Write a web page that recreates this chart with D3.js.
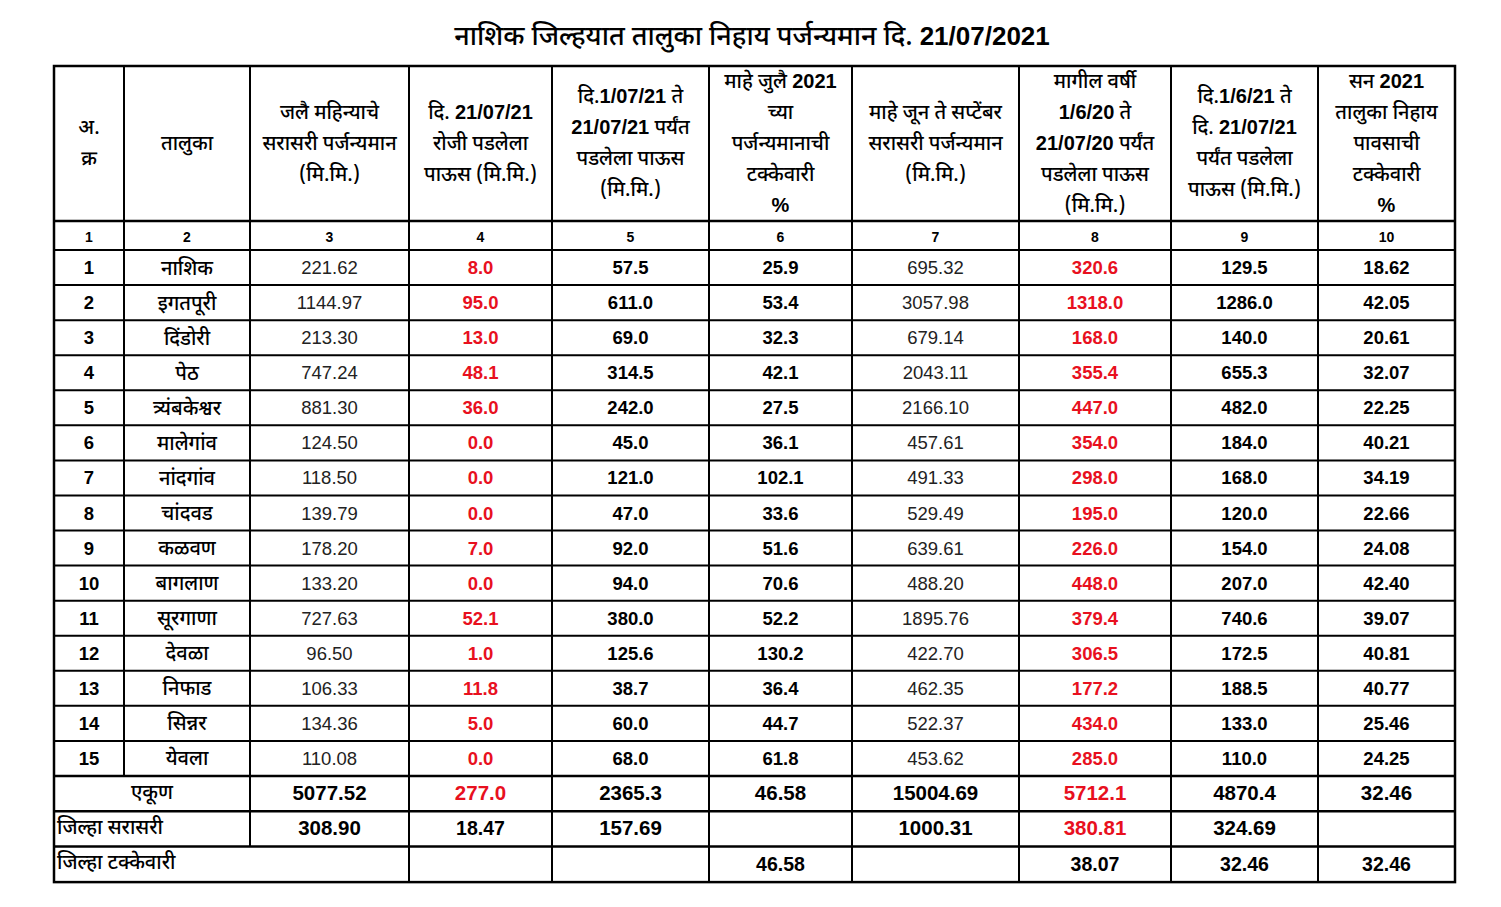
<!DOCTYPE html>
<html><head><meta charset="utf-8">
<script src="https://cdn.jsdelivr.net/npm/d3@7"></script>
<style>body{margin:0;background:#fff;} svg{display:block}</style>
</head><body>
<script>
// ---------- data ----------
const title = "नाशिक जिल्हयात तालुका निहाय पर्जन्यमान दि. 21/07/2021";
const headers = [
  ["अ.", "क्र"],
  ["तालुका"],
  ["जलै महिन्याचे", "सरासरी पर्जन्यमान", "(मि.मि.)"],
  ["दि. 21/07/21", "रोजी पडलेला", "पाऊस (मि.मि.)"],
  ["दि.1/07/21 ते", "21/07/21 पर्यंत", "पडलेला पाऊस", "(मि.मि.)"],
  ["माहे जुलै 2021", "च्या", "पर्जन्यमानाची", "टक्केवारी", "%"],
  ["माहे जून ते सप्टेंबर", "सरासरी पर्जन्यमान", "(मि.मि.)"],
  ["मागील वर्षी", "1/6/20 ते", "21/07/20 पर्यंत", "पडलेला पाऊस", "(मि.मि.)"],
  ["दि.1/6/21 ते", "दि. 21/07/21", "पर्यंत पडलेला", "पाऊस (मि.मि.)"],
  ["सन 2021", "तालुका निहाय", "पावसाची", "टक्केवारी", "%"]
];
const colNumbers = ["1","2","3","4","5","6","7","8","9","10"];
const serial = [1,2,3,4,5,6,7,8,9,10,11,12,13,14,15];
const talukas = ["नाशिक","इगतपूरी","दिंडोरी","पेठ","त्र्यंबकेश्वर","मालेगांव","नांदगांव","चांदवड","कळवण","बागलाण","सूरगाणा","देवळा","निफाड","सिन्नर","येवला"];
const avgJuly      = [221.62,1144.97,213.30,747.24,881.30,124.50,118.50,139.79,178.20,133.20,727.63,96.50,106.33,134.36,110.08];
const rainToday    = [8.0,95.0,13.0,48.1,36.0,0.0,0.0,0.0,7.0,0.0,52.1,1.0,11.8,5.0,0.0];
const rainJuly     = [57.5,611.0,69.0,314.5,242.0,45.0,121.0,47.0,92.0,94.0,380.0,125.6,38.7,60.0,68.0];
const pctJuly      = [25.9,53.4,32.3,42.1,27.5,36.1,102.1,33.6,51.6,70.6,52.2,130.2,36.4,44.7,61.8];
const avgJunSep    = [695.32,3057.98,679.14,2043.11,2166.10,457.61,491.33,529.49,639.61,488.20,1895.76,422.70,462.35,522.37,453.62];
const rainLastYear = [320.6,1318.0,168.0,355.4,447.0,354.0,298.0,195.0,226.0,448.0,379.4,306.5,177.2,434.0,285.0];
const rainSeason   = [129.5,1286.0,140.0,655.3,482.0,184.0,168.0,120.0,154.0,207.0,740.6,172.5,188.5,133.0,110.0];
const pctSeason    = [18.62,42.05,20.61,32.07,22.25,40.21,34.19,22.66,24.08,42.40,39.07,40.81,40.77,25.46,24.25];
const totalLabel = "एकूण";
const totalRow   = [5077.52,277.0,2365.3,46.58,15004.69,5712.1,4870.4,32.46];   // columns 3..10
const avgLabel   = "जिल्हा सरासरी";
const avgRow     = [308.90,18.47,157.69,null,1000.31,380.81,324.69,null];        // columns 3..10
const pctLabel   = "जिल्हा टक्केवारी";
const pctRow     = [null,46.58,null,38.07,32.46,32.46];                          // columns 5..10

// ---------- layout ----------
const W = 1501, H = 907;
const colWidths = [70,126,159,143,157,143,167,152,147,137];
const tLeft = 54, tTop = 66, headerBottom = 221, numBottom = 250, dataBottom = 776, rowH = 35.2;
const colEdges = [tLeft]; colWidths.forEach(w => colEdges.push(colEdges[colEdges.length-1] + w));
const tRight = colEdges[10];
const cx = i => (colEdges[i] + colEdges[i+1]) / 2;
const RED = "#e8101e";
const FONT = "'Liberation Sans', Arial, sans-serif";
const NARROW = "'Liberation Sans Narrow', 'Liberation Sans', sans-serif";
const DEV = "'Noto Sans Devanagari', 'Lohit Devanagari', 'Noto Sans', sans-serif";

const y = d3.scaleBand().domain(d3.range(15)).range([numBottom, dataBottom]);
const yTot = [dataBottom, dataBottom + rowH];
const yAvg = [yTot[1], yTot[1] + rowH];
const yPct = [yAvg[1], yAvg[1] + rowH + 0.5];
const tBottom = yPct[1];

const svg = d3.select("body").append("svg").attr("width", W).attr("height", H);
svg.append("rect").attr("width", W).attr("height", H).attr("fill", "#fff");

// split a string into runs: digit groups (Latin bold narrow) vs Devanagari text
function runs(s) {
  return s.split(/([0-9][0-9\/.]*|%)/).filter(p => p.length);
}
function mixedText(sel, s, devSize, latSize, devWeight) {
  runs(s).forEach(p => {
    const lat = /^([0-9]|%)/.test(p);
    sel.append("tspan")
      .attr("font-family", lat ? NARROW : DEV)
      .attr("font-weight", lat ? "bold" : devWeight)
      .attr("font-size", lat ? latSize : devSize)
      .text(p);
  });
}

// title
const tt = svg.append("text").attr("x", 752).attr("y", 45).attr("text-anchor","middle").attr("fill","#000");
mixedText(tt, title, 27, 26, 500);

// headers
const hMid = (tTop + headerBottom) / 2 + 0.5, lh = 31;
headers.forEach((lines, i) => {
  lines.forEach((s, k) => {
    const t = svg.append("text").attr("text-anchor","middle").attr("fill","#000")
      .attr("x", cx(i)).attr("y", hMid + (k - (lines.length-1)/2) * lh + 5.5);
    mixedText(t, s, 20, 20, 500);
  });
});
// column numbers
svg.selectAll("text.cn").data(colNumbers).join("text").attr("class","cn")
  .attr("x", (d,i) => cx(i)).attr("y", (headerBottom + numBottom)/2 + 1)
  .attr("text-anchor","middle").attr("dominant-baseline","central")
  .attr("font-family", FONT).attr("font-weight","bold").attr("font-size", 14).text(d => d);

// data columns
const columns = [
  {vals: serial, fmt: d => String(d), bold: true, color: "#000"},
  {vals: talukas, fmt: d => d, bold: false, color: "#000", dev: true},
  {vals: avgJuly, fmt: d => d.toFixed(2), bold: false, color: "#222"},
  {vals: rainToday, fmt: d => d.toFixed(1), bold: true, color: RED},
  {vals: rainJuly, fmt: d => d.toFixed(1), bold: true, color: "#000"},
  {vals: pctJuly, fmt: d => d.toFixed(1), bold: true, color: "#000"},
  {vals: avgJunSep, fmt: d => d.toFixed(2), bold: false, color: "#222"},
  {vals: rainLastYear, fmt: d => d.toFixed(1), bold: true, color: RED},
  {vals: rainSeason, fmt: d => d.toFixed(1), bold: true, color: "#000"},
  {vals: pctSeason, fmt: d => d.toFixed(2), bold: true, color: "#000"}
];
columns.forEach((c, i) => {
  svg.append("g").selectAll("text").data(c.vals).join("text")
    .attr("x", cx(i)).attr("y", (d, r) => y(r) + y.bandwidth()/2 + (c.dev ? 7 : 0))
    .attr("text-anchor","middle").attr("dominant-baseline", c.dev ? "auto" : "central")
    .attr("font-family", c.dev ? DEV : FONT)
    .attr("font-weight", c.dev ? 500 : (c.bold ? "bold" : "normal"))
    .attr("font-size", c.dev ? 20 : 18.5).attr("fill", c.color).text(c.fmt);
});

// bottom rows
const totDec = [2,1,1,2,2,1,1,2];
const redCols = [3, 7];
function cellText(x, yy, s, opts) {
  svg.append("text").attr("x", x).attr("y", yy).attr("text-anchor", opts.anchor || "middle")
    .attr("dominant-baseline","central").attr("font-family", FONT)
    .attr("font-weight","bold").attr("font-size", opts.size || 20.5).attr("fill", opts.color || "#000").text(s);
}
function devLabel(x, yy, s, anchor) {
  svg.append("text").attr("x", x).attr("y", yy + 7).attr("text-anchor", anchor)
    .attr("font-family", DEV).attr("font-weight", 500).attr("font-size", 20).attr("fill","#000").text(s);
}
devLabel((colEdges[0]+colEdges[2])/2, (yTot[0]+yTot[1])/2 - 2, totalLabel, "middle");
totalRow.forEach((v, k) => {
  const i = k + 2;
  cellText(cx(i), (yTot[0]+yTot[1])/2 - 1, v.toFixed(totDec[k]), {color: redCols.includes(i) ? RED : "#000"});
});
devLabel(tLeft + 3, (yAvg[0]+yAvg[1])/2 - 2, avgLabel, "start");
avgRow.forEach((v, k) => {
  if (v == null) return;
  const i = k + 2;
  cellText(cx(i), (yAvg[0]+yAvg[1])/2 - 1, v.toFixed(2), {color: i === 7 ? RED : "#000", size: i === 3 ? 19.5 : 20.5});
});
devLabel(tLeft + 3, (yPct[0]+yPct[1])/2 - 2, pctLabel, "start");
pctRow.forEach((v, k) => {
  if (v == null) return;
  const i = k + 4;
  cellText(cx(i), (yPct[0]+yPct[1])/2, v.toFixed(2), {size: 19.5});
});

// grid lines
const g = svg.append("g").attr("stroke","#000").attr("fill","none");
const hl = (x1, x2, yy, w) => g.append("line").attr("x1", x1).attr("x2", x2).attr("y1", yy).attr("y2", yy).attr("stroke-width", w || 2);
const vl = (xx, y1, y2, w) => g.append("line").attr("x1", xx).attr("x2", xx).attr("y1", y1).attr("y2", y2).attr("stroke-width", w || 2);
hl(tLeft, tRight, headerBottom, 2.5);
hl(tLeft, tRight, numBottom, 2);
d3.range(1, 15).forEach(r => hl(tLeft, tRight, y(r), 2));
hl(tLeft, tRight, yTot[0], 2.5);
hl(tLeft, tRight, yAvg[0], 2.5);
hl(tLeft, tRight, yPct[0], 2.5);
// vertical inner lines (col 1|2 stops at totals row; col 2|3 stops at percentage row)
colEdges.slice(1, 10).forEach((xx, j) => {
  const i = j + 1;
  let yEnd = tBottom;
  if (i === 1) yEnd = yTot[0];
  if (i === 2) yEnd = yPct[0];
  vl(xx, tTop, yEnd, 2);
});
// outer border
g.append("rect").attr("x", tLeft).attr("y", tTop).attr("width", tRight-tLeft).attr("height", tBottom-tTop).attr("stroke-width", 2.5);
</script>
</body></html>
